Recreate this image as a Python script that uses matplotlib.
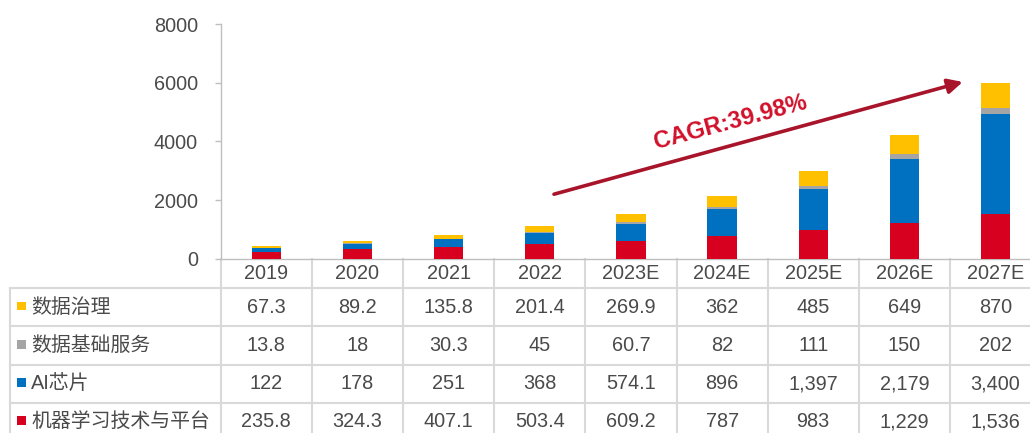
import matplotlib
matplotlib.use("Agg")
import matplotlib.pyplot as plt
from matplotlib.patches import Rectangle
import numpy as np

# ---- data ----
years = ["2019", "2020", "2021", "2022", "2023E", "2024E", "2025E", "2026E", "2027E"]
series_names = ["数据治理", "数据基础服务", "AI芯片", "机器学习技术与平台"]
data_gov = [67.3, 89.2, 135.8, 201.4, 269.9, 362, 485, 649, 870]
data_infra = [13.8, 18, 30.3, 45, 60.7, 82, 111, 150, 202]
ai_chip = [122, 178, 251, 368, 574.1, 896, 1397, 2179, 3400]
ml_platform = [235.8, 324.3, 407.1, 503.4, 609.2, 787, 983, 1229, 1536]
cagr_label = "CAGR:39.98%"

plt.rcParams["font.family"] = ["Liberation Sans", "Noto Sans CJK SC"]

W, H = 1030, 433
TEXT = "#4a4a4a"
GRID = "#d9d9d9"
colors = ["#FFC000", "#A5A5A5", "#0070C0", "#D7001E"]   # same order as series_names
table_rows = [data_gov, data_infra, ai_chip, ml_platform]

# layout in pixels
x0, col_w = 220.7, 91.16
y_top, y_base = 24.2, 258.7
head_h, row_h = 29.5, 38.2
table_left = 10
n = len(years)

fig = plt.figure(figsize=(W / 100, H / 100), dpi=100)

# pixel overlay for the data table
ov = fig.add_axes([0, 0, 1, 1])
ov.set_xlim(0, W)
ov.set_ylim(H, 0)
ov.axis("off")

ax = fig.add_axes([x0 / W, 1 - y_base / H, n * col_w / W, (y_base - y_top) / H])
ax.patch.set_alpha(0)

# ---- stacked bars ----
x = np.arange(n)
stack = [ml_platform, ai_chip, data_infra, data_gov]
stack_colors = [colors[3], colors[2], colors[1], colors[0]]
bottom = np.zeros(n)
for vals, c in zip(stack, stack_colors):
    ax.bar(x, vals, width=0.32, bottom=bottom, color=c, linewidth=0, zorder=3)
    bottom += np.array(vals, dtype=float)

ax.set_xlim(-0.5, n - 0.5)
ax.set_ylim(0, 8000)
ax.set_yticks(np.arange(0, 8001, 2000))
ax.set_xticks([])
for s in ["top", "right"]:
    ax.spines[s].set_visible(False)
for s in ["left", "bottom"]:
    ax.spines[s].set_color("#bfbfbf")
    ax.spines[s].set_linewidth(1.0)
ax.tick_params(axis="y", length=4.3, width=1.0, color="#bfbfbf", pad=12,
               labelsize=14.3, labelcolor=TEXT)

# CAGR arrow + label
ax.annotate("", xy=(7.64, 6030), xytext=(3.156, 2200),
            arrowprops=dict(arrowstyle="-|>", color="#A8142A", lw=2.6,
                            mutation_scale=22, shrinkA=0, shrinkB=0), zorder=5)
ax.text(5.09, 4640, cagr_label, rotation=15, rotation_mode="anchor",
        ha="center", va="center", fontsize=17, fontweight="bold", color="#D0112B")

# ---- data table ----
table_bottom = y_base + head_h + row_h * 4
# vertical lines
for i in range(1, n + 1):
    xv = x0 + i * col_w
    ov.plot([xv, xv], [y_base, table_bottom], color=GRID, lw=1.5)
ov.plot([x0, x0], [y_base, table_bottom], color=GRID, lw=1.5)
ov.plot([table_left, table_left], [y_base + head_h, table_bottom], color=GRID, lw=1.5)
# horizontal lines
for r in range(4):
    yh = y_base + head_h + r * row_h
    ov.plot([table_left, W + 20], [yh, yh], color=GRID, lw=1.5)

# header
for i, yr in enumerate(years):
    ov.text(x0 + (i + 0.5) * col_w, y_base + head_h / 2, yr, ha="center", va="center",
            fontsize=14.3, color=TEXT)

# rows
for r, (name, vals, c) in enumerate(zip(series_names, table_rows, colors)):
    yc = y_base + head_h + (r + 0.5) * row_h
    ov.add_patch(Rectangle((17, yc - 5.5), 8.5, 8.5, facecolor=c, edgecolor="none"))
    ov.text(31, yc, name, ha="left", va="center", fontsize=14.3, color=TEXT)
    for i, v in enumerate(vals):
        ov.text(x0 + (i + 0.5) * col_w, yc, f"{v:,}", ha="center", va="center",
                fontsize=14.3, color=TEXT)

fig.savefig("out.png", dpi=100)
